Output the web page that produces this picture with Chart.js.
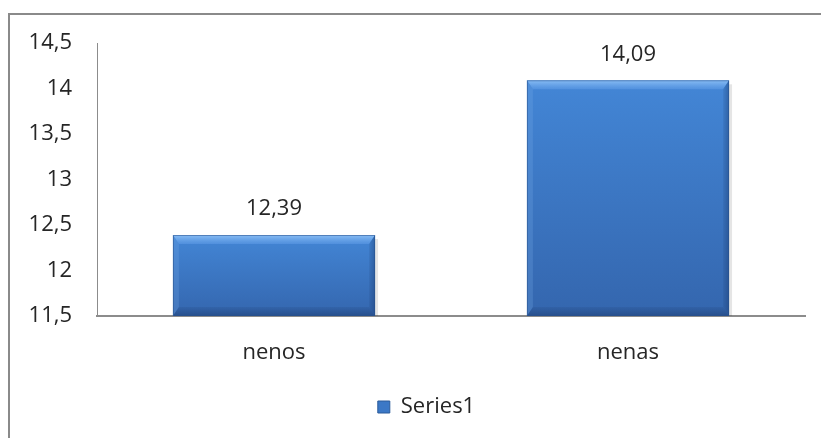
<!DOCTYPE html>
<html>
<head>
<meta charset="utf-8">
<script src="https://cdn.jsdelivr.net/npm/chart.js@4.4.1/dist/chart.umd.min.js"></script>
<style>
  html, body { margin: 0; padding: 0; background: #fff; overflow: hidden; }
  body { width: 821px; height: 438px; position: relative; }
  .frame {
    position: absolute; left: 8px; top: 13px;
    width: 840px; height: 460px;
    border: 2px solid #8a8a8a;
    box-sizing: border-box;
  }
  .chart-box { position: absolute; left: 10px; top: 15px; width: 811px; height: 423px; }
</style>
</head>
<body>
<div class="frame"></div>
<div class="chart-box"><canvas id="chart"></canvas></div>
<script>
const categories = ['nenos', 'nenas'];
const seriesLabel = 'Series1';
const values = [12.39, 14.09];
const yMin = 11.5;
const yMax = 14.5;
const yStep = 0.5;

const textColor = '#262626';
const axisColor = '#8c8c8c';
const fontFamily = "'Open Sans', 'Noto Sans', sans-serif";

const comma = (v) => String(v).replace('.', ',');

function barGradient(ctx, top, bottom) {
  const g = ctx.createLinearGradient(0, top, 0, bottom);
  g.addColorStop(0, '#4386d6');
  g.addColorStop(1, '#3466ae');
  return g;
}

function poly(ctx, pts, fill) {
  ctx.fillStyle = fill;
  ctx.beginPath();
  ctx.moveTo(pts[0][0], pts[0][1]);
  pts.slice(1).forEach((p) => ctx.lineTo(p[0], p[1]));
  ctx.closePath();
  ctx.fill();
}

// bevel edges + value labels on top of each bar
const bevelAndLabels = {
  id: 'bevelAndLabels',
  afterLayout(chart) {
    // the legend in the original sits centred on the (wider) frame
    chart.legend.left += 19;
    chart.legend.right += 19;
  },
  afterDatasetsDraw(chart) {
    const { ctx } = chart;
    const meta = chart.getDatasetMeta(0);
    meta.data.forEach((bar, i) => {
      const left = bar.x - bar.width / 2;
      const right = bar.x + bar.width / 2;
      const top = bar.y;
      const bottom = Math.min(bar.base, chart.chartArea.bottom);
      const bt = 9, bs = 6, bb = 9;
      ctx.save();
      // soft shadow on the right
      ctx.fillStyle = 'rgba(0,0,0,0.10)';
      ctx.fillRect(right, top + 4, 3, bottom - top - 4);

      // top bevel
      const gt = ctx.createLinearGradient(0, top, 0, top + bt);
      gt.addColorStop(0, 'rgba(150,200,250,0.85)');
      gt.addColorStop(1, 'rgba(100,160,235,0.45)');
      poly(ctx, [[left, top], [right, top], [right - bs, top + bt], [left + bs, top + bt]], gt);
      // left bevel
      poly(ctx, [[left, top], [left + bs, top + bt], [left + bs, bottom - bb], [left, bottom]], 'rgba(120,170,230,0.25)');
      // right bevel
      const gr = ctx.createLinearGradient(right - bs, 0, right, 0);
      gr.addColorStop(0, 'rgba(20,50,100,0.10)');
      gr.addColorStop(1, 'rgba(20,50,100,0.40)');
      poly(ctx, [[right, top], [right - bs, top + bt], [right - bs, bottom - bb], [right, bottom]], gr);
      // bottom bevel
      const gb = ctx.createLinearGradient(0, bottom - bb, 0, bottom);
      gb.addColorStop(0, 'rgba(20,45,90,0.10)');
      gb.addColorStop(1, 'rgba(20,45,90,0.40)');
      poly(ctx, [[left, bottom], [left + bs, bottom - bb], [right - bs, bottom - bb], [right, bottom]], gb);
      // outline
      ctx.strokeStyle = 'rgba(40,80,140,0.55)';
      ctx.lineWidth = 1;
      ctx.strokeRect(left + 0.5, top + 0.5, bar.width - 1, bottom - top - 1);
      // label
      ctx.fillStyle = textColor;
      ctx.font = `22px ${fontFamily}`;
      ctx.textAlign = 'center';
      ctx.textBaseline = 'middle';
      ctx.fillText(comma(values[i]), bar.x, top - 26);
      ctx.restore();
    });
  }
};

new Chart(document.getElementById('chart'), {
  type: 'bar',
  data: {
    labels: categories,
    datasets: [{
      label: seriesLabel,
      data: values,
      backgroundColor(context) {
        const chart = context.chart;
        if (!chart.chartArea) return '#3b78c6';
        if (context.type !== 'data') return '#3b78c6';
        const top = chart.scales.y.getPixelForValue(context.raw);
        return barGradient(chart.ctx, top, chart.chartArea.bottom);
      },
      borderWidth: 0,
      categoryPercentage: 0.571,
      barPercentage: 1
    }]
  },
  options: {
    responsive: true,
    maintainAspectRatio: false,
    animation: false,
    layout: { padding: { top: 28, right: 16, bottom: 10, left: 0 } },
    plugins: {
      legend: {
        position: 'bottom',
        labels: {
          color: textColor,
          font: { family: fontFamily, size: 22 },
          boxWidth: 12,
          boxHeight: 12,
          padding: 10,
          generateLabels(chart) {
            return [{
              text: seriesLabel,
              fillStyle: '#3b78c6',
              strokeStyle: '#2a5a9a',
              lineWidth: 1,
              fontColor: textColor,
              datasetIndex: 0
            }];
          }
        }
      },
      tooltip: { enabled: false }
    },
    scales: {
      x: {
        grid: { display: true, drawOnChartArea: false, drawTicks: false },
        border: { color: axisColor, width: 2 },
        ticks: { color: textColor, font: { family: fontFamily, size: 22 }, padding: 24 },
        afterFit(axis) { axis.height = 70; }
      },
      y: {
        min: yMin,
        max: yMax,
        grid: { display: true, drawOnChartArea: false, drawTicks: false },
        border: { color: axisColor, width: 1 },
        ticks: {
          stepSize: yStep,
          color: textColor,
          font: { family: fontFamily, size: 22 },
          padding: 25,
          callback: (v) => comma(v)
        },
        afterFit(axis) {
          axis.width = 87;
          axis.paddingTop = 10;
          axis.paddingBottom = 10;
        }
      }
    }
  },
  plugins: [bevelAndLabels]
});
</script>
</body>
</html>
